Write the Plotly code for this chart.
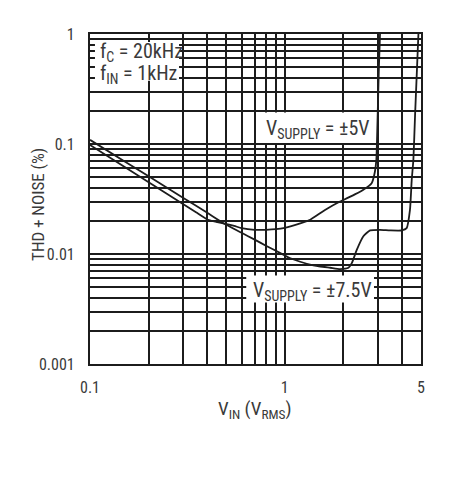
import plotly.graph_objects as go

# ---- data ----
vin_5v = [0.1, 0.15, 0.2, 0.3, 0.35, 0.403, 0.45, 0.49, 0.55, 0.6, 0.7, 0.8, 0.9, 1.0, 1.2,
          1.35, 1.6, 1.92, 2.0, 2.3, 2.53, 2.79, 2.9, 2.95, 3.0, 3.04, 3.08]
thd_5v = [0.098, 0.062, 0.045, 0.0285, 0.024, 0.0205, 0.0195, 0.0189, 0.018, 0.0172, 0.0166,
          0.0166, 0.0168, 0.0173, 0.019, 0.0205, 0.025, 0.030, 0.031, 0.035, 0.0384, 0.044,
          0.056, 0.072, 0.2, 0.5, 1.0]

vin_75v = [0.1, 0.15, 0.2, 0.3, 0.4, 0.454, 0.49, 0.6, 0.7, 0.8, 0.9, 1.0, 1.06, 1.2, 1.4,
           1.52, 1.71, 1.92, 2.12, 2.21, 2.34, 2.53, 2.74, 3.08, 3.47, 3.98, 4.22, 4.39,
           4.48, 4.57, 4.66, 4.76, 4.85]
thd_75v = [0.109, 0.0697, 0.0508, 0.0325, 0.0237, 0.0205, 0.0188, 0.0156, 0.0135, 0.0119,
           0.0107, 0.0097, 0.0092, 0.0085, 0.0079, 0.0077, 0.0075, 0.0073, 0.0075, 0.0083,
           0.0109, 0.0145, 0.0164, 0.0166, 0.0164, 0.0164, 0.0172, 0.0253, 0.047, 0.072,
           0.18, 0.45, 1.0]

x_ticks = [0.1, 1, 5]
x_labels = ["0.1", "1", "5"]
x_minor = [0.2, 0.3, 0.4, 0.5, 0.6, 0.7, 0.8, 0.9, 2, 3, 4]
y_ticks = [0.001, 0.01, 0.1, 1]
y_labels = ["0.001", "0.01", "0.1", "1"]
y_minor = [m * d for d in (0.001, 0.01, 0.1) for m in range(2, 10)]

FONT = "Liberation Sans Narrow, Arial Narrow, Roboto Condensed, Liberation Sans, sans-serif"
INK = "#1c1c1c"
TXT = "#3a3a3a"

fig = go.Figure()
fig.add_trace(go.Scatter(x=vin_5v, y=thd_5v, mode="lines", name="±5V",
                         line=dict(color=INK, width=1.8, shape="spline", smoothing=0.5)))
fig.add_trace(go.Scatter(x=vin_75v, y=thd_75v, mode="lines", name="±7.5V",
                         line=dict(color=INK, width=1.8, shape="spline", smoothing=0.5)))

axis_common = dict(type="log", showgrid=True, gridcolor=INK, gridwidth=1.7,
                   showline=True, linecolor=INK, linewidth=2.2, mirror=True,
                   ticks="", zeroline=False,
                   tickfont=dict(family=FONT, size=16, color=TXT))

fig.update_xaxes(**axis_common, range=[-1, 0.69897], tickmode="array",
                 tickvals=x_ticks, ticktext=x_labels, ticklabelstandoff=8,
                 minor=dict(tickmode="array", tickvals=x_minor, showgrid=True,
                            gridcolor=INK, gridwidth=1.7, ticks=""))
fig.update_yaxes(**axis_common, range=[-3, 0], tickmode="array",
                 tickvals=y_ticks, ticktext=y_labels, ticklabelstandoff=10,
                 minor=dict(tickmode="array", tickvals=y_minor, showgrid=True,
                            gridcolor=INK, gridwidth=1.7, ticks=""))

# white label boxes (cover the grid behind the texts)
boxes = [(0.015, 0.269, 0.858, 0.976),
         (0.51, 0.862, 0.670, 0.762),
         (0.472, 0.858, 0.186, 0.268)]
for x0, x1, y0, y1 in boxes:
    fig.add_shape(type="rect", xref="paper", yref="paper", x0=x0, x1=x1, y0=y0, y1=y1,
                  fillcolor="white", line=dict(width=0), layer="above")

ann_font = dict(family=FONT, size=20, color=TXT)
annotations = [
    dict(text="f<sub>C</sub> = 20kHz", x=0.024, y=0.945),
    dict(text="f<sub>IN</sub> = 1kHz", x=0.024, y=0.880),
    dict(text="V<sub>SUPPLY</sub> = ±5V", x=0.525, y=0.713),
    dict(text="V<sub>SUPPLY</sub> = ±7.5V", x=0.487, y=0.222),
]
for a in annotations:
    fig.add_annotation(xref="paper", yref="paper", xanchor="left", yanchor="middle",
                       showarrow=False, font=ann_font, **a)

fig.add_annotation(text="THD + NOISE (%)", xref="paper", yref="paper", x=-0.157, y=0.482,
                   textangle=-90, showarrow=False,
                   font=dict(family=FONT, size=17, color=TXT),
                   xanchor="center", yanchor="middle")
fig.add_annotation(text="V<sub>IN</sub> (V<sub>RMS</sub>)", xref="paper", yref="paper",
                   x=0.498, y=-0.139, showarrow=False,
                   font=dict(family=FONT, size=19, color=TXT),
                   xanchor="center", yanchor="middle")

fig.update_layout(width=463, height=483, margin=dict(l=90, r=42, t=34, b=119),
                  paper_bgcolor="white", plot_bgcolor="white", showlegend=False)

fig.write_html("out.html")
